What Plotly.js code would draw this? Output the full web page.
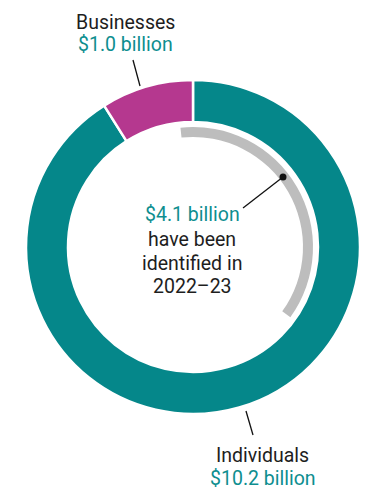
<!DOCTYPE html>
<html><head><meta charset="utf-8">
<script src="https://cdn.plot.ly/plotly-3.0.1.min.js"></script>
<style>html,body{margin:0;padding:0;background:#fff}#chart{width:386px;height:500px}</style>
</head><body><div id="chart"></div>
<script>
// Data
const categories = ["Individuals", "Businesses"];
const values = [10.2, 1.0]; // $ billion
const identifiedLabel = "Identified in 2022–23";
const identifiedValue = 4.1; // $ billion
const total = values.reduce((a, b) => a + b, 0);
const valueLabels = ["$10.2 billion", "$1.0 billion"];
const centerLines = ["have been", "identified in", "2022–23"];

const W = 386, H = 500;
const cx = 193, cy = 247, R = 167, rIn = 125, gR = 120, gIn = 110;
const px = x => x / W, py = y => 1 - y / H;
const teal = "#05878a", magenta = "#b5388f", gray = "#bdbdbd", tealText = "#0e8e8f";

const outer = {
  type: "pie", values: values, labels: categories, sort: false,
  direction: "clockwise", rotation: 0, hole: rIn / R,
  marker: {colors: [teal, magenta], line: {color: "#fff", width: 2.5}},
  textinfo: "none", hoverinfo: "label+value", showlegend: false,
  domain: {x: [px(cx - R), px(cx + R)], y: [py(cy + R), py(cy - R)]}
};
const inner = {
  type: "pie", values: [identifiedValue, total - identifiedValue],
  labels: [identifiedLabel, "Other"], sort: false,
  direction: "clockwise", rotation: -6, hole: gIn / gR,
  marker: {colors: [gray, "rgba(0,0,0,0)"], line: {width: 0}},
  textinfo: "none", hoverinfo: "skip", showlegend: false,
  domain: {x: [px(cx - gR), px(cx + gR)], y: [py(cy + gR), py(cy - gR)]}
};

const ann = (x, y, text, color) => ({xref: "paper", yref: "paper", x: px(x), y: py(y), xanchor: "center", yanchor: "middle", showarrow: false, text: text,
  font: {family: "Roboto, 'Open Sans', sans-serif", size: 19.5, color: color || "#1e1e1e", weight: 400}});

const line = (x0, y0, x1, y1) => ({type: "line", xref: "paper", yref: "paper", x0: px(x0), y0: py(y0), x1: px(x1), y1: py(y1), line: {color: "#111", width: 1.3}});

const layout = {
  width: W, height: H, margin: {l: 0, r: 0, t: 0, b: 0},
  paper_bgcolor: "#fff", plot_bgcolor: "#fff",
  annotations: [
    ann(125, 22, categories[1]),
    ann(125, 45, valueLabels[1], tealText),
    ann(262.5, 455, categories[0]),
    ann(262.5, 478, valueLabels[0], tealText),
    ann(192, 215, "$" + identifiedValue.toFixed(1) + " billion", tealText),
    ann(192, 239, centerLines[0]),
    ann(192, 263, centerLines[1]),
    ann(192, 286, centerLines[2])
  ],
  shapes: [
    line(133, 60, 140, 86),
    line(246, 411, 253, 435),
    line(283, 177, 243, 208),
    {type: "circle", xref: "paper", yref: "paper", x0: px(279.5), x1: px(286.5), y0: py(180.5), y1: py(173.5), fillcolor: "#111", line: {width: 0}}
  ]
};
Plotly.newPlot("chart", [outer, inner], layout, {displayModeBar: false, staticPlot: true});
</script></body></html>
